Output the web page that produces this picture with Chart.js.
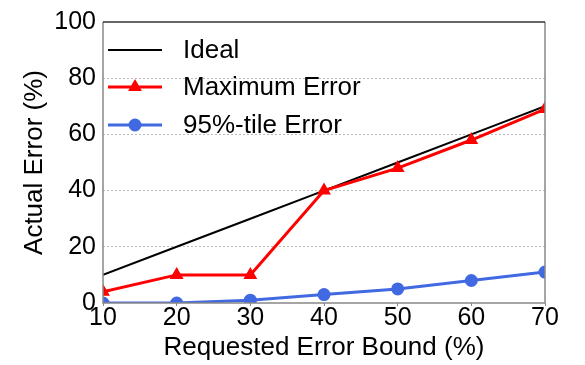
<!DOCTYPE html>
<html lang="en">
<head>
    <meta charset="UTF-8">
    <title>Actual vs Requested Error</title>
    <script src="https://cdn.jsdelivr.net/npm/chart.js"></script>
    <style>
        body { margin: 0; background: #fff; }
    </style>
</head>
<body>
    <canvas id="errChart" width="585" height="365"></canvas>

    <script>
        // data
        const bounds = [10, 20, 30, 40, 50, 60, 70];
        const idealErr = [10, 20, 30, 40, 50, 60, 70];
        const maxErr = [4, 10, 10, 40, 48, 58, 69];
        const p95Err = [0, 0, 1, 3, 5, 8, 11];
        const seriesNames = ['Ideal', 'Maximum Error', '95%-tile Error'];

        const FONT = '"Liberation Sans", Arial, sans-serif';

        function toPoints(ys) {
            return bounds.map((x, i) => ({ x: x, y: ys[i] }));
        }

        // frame round the plot + legend inside it
        const framePlugin = {
            id: 'frame',
            afterDatasetsDraw(chart) {
                const { ctx, chartArea: a } = chart;
                ctx.save();
                ctx.lineWidth = 1.5;
                ctx.strokeStyle = '#888';
                ctx.beginPath();
                ctx.moveTo(a.left, a.top);
                ctx.lineTo(a.left, a.bottom);
                ctx.lineTo(a.right, a.bottom);
                ctx.lineTo(a.right, a.top);
                ctx.stroke();
                ctx.strokeStyle = '#333';
                ctx.beginPath();
                ctx.moveTo(a.left, a.top);
                ctx.lineTo(a.right, a.top);
                ctx.stroke();
                ctx.restore();
            },
            afterDraw(chart) {
                const { ctx } = chart;
                const rows = [50, 87, 125];
                ctx.save();
                chart.data.datasets.forEach((ds, i) => {
                    const y = rows[i];
                    ctx.strokeStyle = ds.borderColor;
                    ctx.lineWidth = ds.borderWidth;
                    ctx.beginPath();
                    ctx.moveTo(108, y);
                    ctx.lineTo(162, y);
                    ctx.stroke();
                    if (ds.pointRadius > 0) {
                        Chart.helpers.drawPoint(ctx, {
                            pointStyle: ds.pointStyle,
                            radius: ds.pointRadius,
                            borderWidth: 1
                        }, 135, y);
                        ctx.fillStyle = ds.borderColor;
                        ctx.fill();
                    }
                    ctx.fillStyle = '#000';
                    ctx.font = '26px ' + FONT;
                    ctx.textBaseline = 'middle';
                    ctx.textAlign = 'left';
                    ctx.fillText(ds.label, 183, y + 1);
                });
                ctx.restore();
            }
        };

        const ctx = document.getElementById('errChart').getContext('2d');
        const chart = new Chart(ctx, {
            type: 'line',
            data: {
                datasets: [
                    {
                        label: seriesNames[0],
                        data: toPoints(idealErr),
                        borderColor: '#000',
                        backgroundColor: '#000',
                        borderWidth: 2,
                        pointRadius: 0,
                        order: 3,
                        clip: 0
                    },
                    {
                        label: seriesNames[1],
                        data: toPoints(maxErr),
                        borderColor: '#ff0000',
                        backgroundColor: '#ff0000',
                        borderWidth: 3,
                        pointStyle: 'triangle',
                        pointRadius: 5,
                        order: 2,
                        clip: 0
                    },
                    {
                        label: seriesNames[2],
                        data: toPoints(p95Err),
                        borderColor: '#4169e1',
                        backgroundColor: '#4169e1',
                        borderWidth: 3,
                        pointStyle: 'circle',
                        pointRadius: 5,
                        order: 1,
                        clip: 0
                    }
                ]
            },
            options: {
                responsive: false,
                animation: false,
                layout: { padding: { top: 16, right: 40, left: 0, bottom: 0 } },
                plugins: {
                    legend: { display: false },
                    tooltip: { enabled: false }
                },
                elements: { line: { tension: 0 } },
                scales: {
                    x: {
                        type: 'linear',
                        min: 10,
                        max: 70,
                        ticks: {
                            stepSize: 10,
                            color: '#000',
                            padding: -3,
                            font: { family: FONT, size: 25 }
                        },
                        grid: {
                            drawOnChartArea: false,
                            tickLength: 3,
                            color: '#888'
                        },
                        border: { display: false },
                        title: {
                            display: true,
                            text: 'Requested Error Bound (%)',
                            color: '#000',
                            font: { family: FONT, size: 26, lineHeight: 1 },
                            padding: { top: 0, bottom: 4 }
                        },
                        afterFit(scale) { scale.height = 62; }
                    },
                    y: {
                        min: 0,
                        max: 100,
                        ticks: {
                            stepSize: 20,
                            color: '#000',
                            padding: 7,
                            font: { family: FONT, size: 25 }
                        },
                        grid: {
                            drawTicks: false,
                            lineWidth: 1,
                            color: (c) => (c.tick && c.tick.value > 0 && c.tick.value < 100) ? '#bbb' : 'rgba(0,0,0,0)'
                        },
                        border: { display: false, dash: [2, 2] },
                        title: {
                            display: true,
                            text: 'Actual Error (%)',
                            color: '#000',
                            font: { family: FONT, size: 26, lineHeight: 1 },
                            padding: { top: 22, bottom: 0 }
                        },
                        afterFit(scale) { scale.width = 103; }
                    }
                }
            },
            plugins: [framePlugin]
        });
    </script>
</body>
</html>
